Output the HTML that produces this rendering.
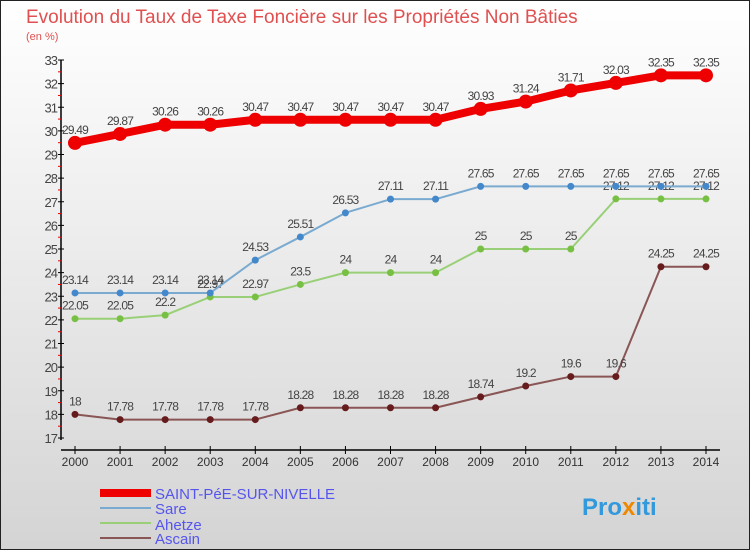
<!DOCTYPE html>
<html><head><meta charset="utf-8"><style>
body{margin:0}
#c{width:750px;height:550px;position:relative;overflow:hidden;font-family:"Liberation Sans",sans-serif}
</style></head><body>
<div id="c">
<svg id="s" width="750" height="550" xmlns="http://www.w3.org/2000/svg">
<defs><linearGradient id="bg" x1="0" y1="0" x2="0" y2="1"><stop offset="0" stop-color="#ffffff"/><stop offset="1" stop-color="#d4d4d4"/></linearGradient></defs>
<rect x="0.5" y="0.5" width="749" height="549" fill="url(#bg)" stroke="#222"/>
<text x="26" y="23" font-size="19" fill="#e05050">Evolution du Taux de Taxe Foncière sur les Propriétés Non Bâties</text>
<text x="26" y="40" font-size="11" fill="#e05050">(en %)</text>
<g id="axes"></g><g id="series"></g>
<g>
<rect x="100" y="489" width="51" height="8" fill="#ee0000"/>
<text x="155" y="499" font-size="15" fill="#5555ee">SAINT-PéE-SUR-NIVELLE</text>
<rect x="100" y="507" width="51" height="2" fill="#7aaad0"/>
<text x="155" y="514" font-size="15" fill="#5555ee">Sare</text>
<rect x="100" y="522" width="51" height="2" fill="#99d077"/>
<text x="155" y="530" font-size="15" fill="#5555ee">Ahetze</text>
<rect x="100" y="537" width="51" height="2" fill="#8a5555"/>
<text x="155" y="544" font-size="15" fill="#5555ee">Ascain</text>
</g>
<text x="582" y="515" font-size="24" font-weight="bold" fill="#3399dd">Pro<tspan fill="#ee8800">x</tspan>iti</text>
</svg></div>
<script>
const years=[2000,2001,2002,2003,2004,2005,2006,2007,2008,2009,2010,2011,2012,2013,2014];
const yTicks=[17,18,19,20,21,22,23,24,25,26,27,28,29,30,31,32,33];
const saintPee=[29.49,29.87,30.26,30.26,30.47,30.47,30.47,30.47,30.47,30.93,31.24,31.71,32.03,32.35,32.35];
const sare=[23.14,23.14,23.14,23.14,24.53,25.51,26.53,27.11,27.11,27.65,27.65,27.65,27.65,27.65,27.65];
const ahetze=[22.05,22.05,22.2,22.97,22.97,23.5,24,24,24,25,25,25,27.12,27.12,27.12];
const ascain=[18,17.78,17.78,17.78,17.78,18.28,18.28,18.28,18.28,18.74,19.2,19.6,19.6,24.25,24.25];
const NS="http://www.w3.org/2000/svg";
const X=i=>75+i*(631/(years.length-1));
const Y=v=>60+(33-v)*(378/16);
function mk(t,a,p){const e=document.createElementNS(NS,t);for(const k in a)e.setAttribute(k,a[k]);p.appendChild(e);return e;}
const ax=document.getElementById('axes');
let yl=mk('line',{x1:61,y1:60,x2:61,y2:440,stroke:'#000','stroke-width':1.5},ax);


let xl=mk('line',{x1:61,y1:450,x2:720,y2:450,stroke:'#000','stroke-width':1.5},ax);


yTicks.forEach(v=>{const y=Y(v);
 mk('line',{x1:58,y1:y,x2:64,y2:y,stroke:'#000'},ax);
 if(v<33)mk('line',{x1:58,y1:y-11.8,x2:62,y2:y-11.8,stroke:'#e00'},ax);
 const t=mk('text',{x:57,y:y+5,'font-size':13,'text-anchor':'end',fill:'#444','letter-spacing':'-1'},ax);t.textContent=v;
 
 });
years.forEach((yr,i)=>{const x=X(i);
 mk('line',{x1:x,y1:446,x2:x,y2:454,stroke:'#000'},ax);
 const t=mk('text',{x:x,y:466,'font-size':12,'text-anchor':'middle',fill:'#333'},ax);t.textContent=yr;
 
 });
const sg=document.getElementById('series');
function draw(name,vals,color,w,r,dot){
 const g=mk('g',{},sg);
 
 
 mk('polyline',{points:vals.map((v,i)=>X(i)+','+Y(v)).join(' '),fill:'none',stroke:color,'stroke-width':w,'stroke-linejoin':'round'},g);
 vals.forEach((v,i)=>{const c=mk('circle',{cx:X(i),cy:Y(v),r:r,fill:dot},g);
  
  
  const t=mk('text',{x:X(i),y:Y(v)-9,'font-size':12,'text-anchor':'middle',fill:'#444','letter-spacing':'-0.8'},g);t.textContent=v;
  
  });
}
draw('ascain',ascain,'#8a5555',2,3.5,'#661c1c');
draw('ahetze',ahetze,'#99d077',2,3.5,'#77c044');
draw('sare',sare,'#7aaad0',2,3.5,'#4488cc');
draw('saint-pee',saintPee,'#ee0000',8,7,'#ee0000');
</script>
</body></html>
